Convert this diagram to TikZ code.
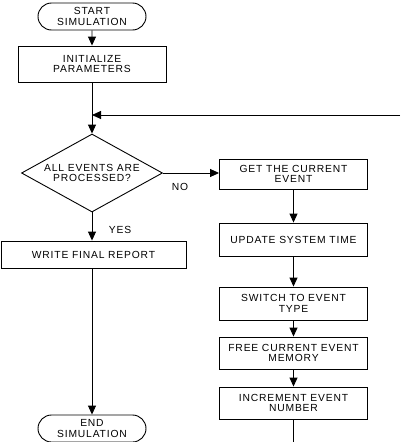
\documentclass[tikz,border=0pt]{standalone}
\usepackage{fontspec}
\setmainfont{Liberation Sans}[LetterSpace=8]
\usetikzlibrary{arrows.meta,shapes.geometric,shapes.misc}
\begin{document}
\begin{tikzpicture}[x=1pt,y=-1pt,
  every node/.style={font=\fontsize{10.3}{10.3}\selectfont, align=center},
  procbox/.style={draw, line width=0.9pt, minimum width=148pt, inner sep=0pt},
  term/.style={draw, line width=0.9pt, rounded rectangle, minimum width=108pt, minimum height=27pt, inner sep=0pt},
  decis/.style={draw, line width=0.9pt, diamond, minimum width=141pt, minimum height=78pt, inner sep=0pt},
  conn/.style={line width=0.9pt},
  arr/.style={conn, -{Triangle[width=8pt,length=9pt]}},
  lbl/.style={font=\fontsize{10.3}{10.3}\selectfont}]
\useasboundingbox (0,0) rectangle (400,442);
\node[term] (start) at (92,16.5) {START\\SIMULATION};
\node[procbox, minimum height=36pt] (init) at (92,64) {INITIALIZE\\PARAMETERS};
\coordinate (junc) at (92,115);
\coordinate (loopin) at (400,115);
\node[decis] (dec) at (92,173) {};
\node at (dec.center) {ALL EVENTS ARE\\PROCESSED?};
\node[procbox, minimum width=185pt, minimum height=27pt] (write) at (93.5,254.5) {WRITE FINAL REPORT};
\node[term] (end) at (92,428.5) {END\\SIMULATION};
\node[procbox, minimum height=30pt] (get) at (293.5,174) {GET THE CURRENT\\EVENT};
\node[procbox, minimum height=33pt] (upd) at (293.5,239.5) {UPDATE SYSTEM TIME};
\node[procbox, minimum height=33pt] (sw) at (293.5,303.5) {SWITCH TO EVENT\\TYPE};
\node[procbox, minimum height=32pt] (free) at (293.5,353) {FREE CURRENT EVENT\\MEMORY};
\node[procbox, minimum height=32pt] (inc) at (293.5,403) {INCREMENT EVENT\\NUMBER};
\coordinate (loopout) at (293.5,442);
\draw[arr] (start) -- (init);
\draw[conn] (init) -- (junc);
\draw[arr] (junc) -- (dec.north);
\draw[arr] (loopin) -- (junc);
\draw[arr] (dec.east) -- (get.west |- dec.east);
\node[lbl] at (180,187) {NO};
\draw[arr] (dec.south) -- (dec.south |- write.north);
\node[lbl] at (120,230) {YES};
\draw[arr] (write.south -| end.north) -- (end.north);
\draw[arr] (get) -- (upd);
\draw[arr] (upd) -- (sw);
\draw[arr] (sw) -- (free);
\draw[arr] (free) -- (inc);
\draw[conn] (inc.south) -- (loopout);
\end{tikzpicture}
\end{document}
